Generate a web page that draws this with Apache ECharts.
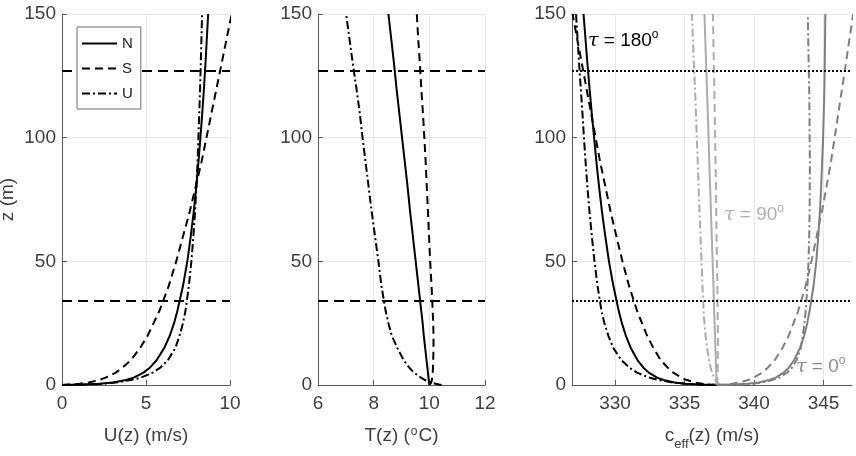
<!DOCTYPE html>
<html>
<head>
<meta charset="utf-8">
<title>Profiles</title>
<script src="https://cdn.jsdelivr.net/npm/echarts@6.0.0/dist/echarts.min.js"></script>
<style>
  html, body { margin: 0; padding: 0; background: #fff; }
  #chart { width: 856px; height: 456px; }
</style>
</head>
<body>
<div id="chart"></div>
<script>
// heights (m) at which the profiles were read
const zLevels = [0, 0.2, 0.5, 1, 2, 3, 5, 7, 10, 15, 20, 25, 30, 40, 50, 60, 70, 80, 90, 100, 110, 120, 130, 140, 150]

// wind speed U(z) (m/s)
const windN = [0, 1.20, 2.24, 3.03, 3.81, 4.27, 4.85, 5.23, 5.63, 6.09, 6.42, 6.67, 6.87, 7.20, 7.46, 7.66, 7.84, 7.99, 8.12, 8.24, 8.35, 8.45, 8.54, 8.62, 8.70]
const windS = [0, 0.55, 1.05, 1.6, 2.2, 2.6, 3.2, 3.6, 4.1, 4.65, 5.1, 5.45, 5.8, 6.35, 6.8, 7.2, 7.6, 7.95, 8.3, 8.6, 8.9, 9.2, 9.5, 9.8, 10.1]
const windU = [0, 1.5, 2.4, 3.2, 4.1, 4.7, 5.4, 5.85, 6.3, 6.75, 7.0, 7.2, 7.35, 7.55, 7.7, 7.82, 7.92, 8.0, 8.07, 8.12, 8.17, 8.22, 8.26, 8.3, 8.34]

// temperature T(z) (degC)
const tempN = [10.00, 10.00, 10.00, 9.99, 9.98, 9.97, 9.95, 9.93, 9.90, 9.85, 9.80, 9.76, 9.71, 9.61, 9.51, 9.41, 9.31, 9.22, 9.12, 9.02, 8.92, 8.82, 8.73, 8.63, 8.53]
const tempS = [10.00, 10.03, 10.05, 10.07, 10.09, 10.10, 10.12, 10.13, 10.14, 10.15, 10.15, 10.14, 10.12, 10.08, 10.03, 9.99, 9.95, 9.91, 9.87, 9.82, 9.77, 9.71, 9.66, 9.60, 9.55]
const tempU = [10.44, 10.35, 10.22, 10.08, 9.85, 9.70, 9.45, 9.28, 9.08, 8.85, 8.65, 8.53, 8.43, 8.28, 8.17, 8.05, 7.93, 7.82, 7.71, 7.60, 7.50, 7.38, 7.25, 7.13, 7.01]

// effective sound speed c_eff(z) (m/s), tau = 180 / 90 / 0
const ceff180N = [337.31, 336.11, 335.07, 334.27, 333.49, 333.02, 332.43, 332.04, 331.62, 331.13, 330.77, 330.49, 330.26, 329.88, 329.56, 329.30, 329.06, 328.85, 328.66, 328.49, 328.32, 328.16, 328.01, 327.87, 327.73]
const ceff180S = [337.31, 336.78, 336.29, 335.75, 335.16, 334.77, 334.18, 333.79, 333.29, 332.75, 332.30, 331.94, 331.58, 331.01, 330.53, 330.10, 329.68, 329.31, 328.93, 328.60, 328.27, 327.94, 327.61, 327.27, 326.94]
const ceff180U = [337.57, 336.02, 335.04, 334.16, 333.12, 332.43, 331.58, 331.03, 330.46, 329.87, 329.51, 329.23, 329.02, 328.74, 328.52, 328.33, 328.16, 328.01, 327.88, 327.76, 327.65, 327.53, 327.41, 327.30, 327.19]
const ceff90N = [337.31, 337.31, 337.31, 337.30, 337.30, 337.29, 337.28, 337.27, 337.25, 337.22, 337.19, 337.16, 337.13, 337.08, 337.02, 336.96, 336.90, 336.84, 336.78, 336.73, 336.67, 336.61, 336.55, 336.49, 336.43]
const ceff90S = [337.31, 337.33, 337.34, 337.35, 337.36, 337.37, 337.38, 337.39, 337.39, 337.40, 337.40, 337.39, 337.38, 337.36, 337.33, 337.30, 337.28, 337.26, 337.23, 337.20, 337.17, 337.14, 337.11, 337.07, 337.04]
const ceff90U = [337.57, 337.52, 337.44, 337.36, 337.22, 337.13, 336.98, 336.88, 336.76, 336.62, 336.51, 336.43, 336.37, 336.29, 336.22, 336.15, 336.08, 336.01, 335.95, 335.88, 335.82, 335.75, 335.67, 335.60, 335.53]
const ceff0N = [337.31, 338.51, 339.55, 340.33, 341.11, 341.56, 342.13, 342.50, 342.88, 343.31, 343.61, 343.83, 344.00, 344.28, 344.48, 344.62, 344.74, 344.83, 344.90, 344.97, 345.02, 345.06, 345.09, 345.11, 345.13]
const ceff0S = [337.31, 337.88, 338.39, 338.95, 339.56, 339.97, 340.58, 340.99, 341.49, 342.05, 342.50, 342.84, 343.18, 343.71, 344.13, 344.50, 344.88, 345.21, 345.53, 345.80, 346.07, 346.34, 346.61, 346.87, 347.14]
const ceff0U = [337.57, 339.02, 339.84, 340.56, 341.32, 341.83, 342.38, 342.73, 343.06, 343.37, 343.51, 343.63, 343.72, 343.84, 343.92, 343.97, 344.00, 344.01, 344.02, 344.00, 343.99, 343.97, 343.93, 343.90, 343.87]

// rotor bottom / top heights (m)
const rotorLevels = [34, 127]

const stabilityNames = ['N', 'S', 'U']

const font = 'Liberation Sans, Arial, sans-serif'
const labelColor = '#404040'
const dashTypes = {
  N: 'solid',
  S: [8, 5],
  U: [8, 3, 2, 3]
}

function profile (values) {
  return zLevels.map((z, i) => [values[i], z])
}

function curve (name, values, stab, axis, color) {
  return {
    name: name,
    type: 'line',
    xAxisIndex: axis,
    yAxisIndex: axis,
    symbol: 'none',
    showSymbol: false,
    silent: true,
    lineStyle: { color: color, width: 2, type: dashTypes[stab] },
    itemStyle: { color: color },
    data: profile(values)
  }
}

function rotorLines (type) {
  return {
    silent: true,
    symbol: 'none',
    animation: false,
    label: { show: false },
    lineStyle: { color: '#000', width: 2, type: type },
    data: rotorLevels.map(v => ({ yAxis: v }))
  }
}

const richName = {
  n: { fontSize: 19, color: labelColor, fontFamily: font, lineHeight: 22, verticalAlign: 'top' },
  sup: { fontSize: 12, color: labelColor, fontFamily: font, lineHeight: 12, verticalAlign: 'top', padding: [0, 1, 0, 1] },
  sub: { fontSize: 13, color: labelColor, fontFamily: font, lineHeight: 13, verticalAlign: 'top', padding: [12, 0, 0, 0] }
}

function xAxisOf (idx, min, max, name, extra) {
  return Object.assign({
    type: 'value',
    gridIndex: idx,
    min: min,
    max: max,
    name: name,
    nameLocation: 'middle',
    nameGap: 41,
    nameTextStyle: { fontSize: 19, color: labelColor, fontFamily: font, rich: richName },
    axisLine: { show: true, onZero: false, lineStyle: { color: '#5a5a5a', width: 1 } },
    axisTick: { show: true, inside: true, length: 5, lineStyle: { color: '#5a5a5a' } },
    axisLabel: { fontSize: 19, color: labelColor, fontFamily: font, margin: 9 },
    splitLine: { show: true, lineStyle: { color: '#e6e6e6', width: 1 } }
  }, extra || {})
}

function yAxisOf (idx, withName) {
  return {
    type: 'value',
    gridIndex: idx,
    min: 0,
    max: 150,
    interval: 50,
    name: withName ? 'z (m)' : '',
    nameLocation: 'middle',
    nameRotate: 90,
    nameGap: 45,
    nameTextStyle: { fontSize: 19, color: labelColor, fontFamily: font },
    axisLine: { show: true, onZero: false, lineStyle: { color: '#5a5a5a', width: 1 } },
    axisTick: { show: true, inside: true, length: 5, lineStyle: { color: '#5a5a5a' } },
    axisLabel: { fontSize: 19, color: labelColor, fontFamily: font, margin: 6 },
    splitLine: { show: true, lineStyle: { color: '#e6e6e6', width: 1 } }
  }
}

function tauLabel (text, color, left, top) {
  const rich = {
    t: { fontSize: 19, fontFamily: 'DejaVu Serif', fontStyle: 'italic', fill: color, lineHeight: 24, verticalAlign: 'middle' },
    n: { fontSize: 19, fontFamily: font, fill: color, lineHeight: 24, verticalAlign: 'middle' },
    s: { fontSize: 12, fontFamily: font, fill: color, lineHeight: 12, verticalAlign: 'top' }
  }
  return {
    type: 'text',
    left: left,
    top: top,
    silent: true,
    style: { text: '{t|τ}{n| = ' + text + '}{s|o}', rich: rich, fill: color }
  }
}

const black = '#000000'
const gray90 = '#acacac'
const gray0 = '#7f7f7f'

const series = [
  curve('N', windN, 'N', 0, black),
  curve('S', windS, 'S', 0, black),
  curve('U', windU, 'U', 0, black),
  curve('T N', tempN, 'N', 1, black),
  curve('T S', tempS, 'S', 1, black),
  curve('T U', tempU, 'U', 1, black),
  curve('c180 N', ceff180N, 'N', 2, black),
  curve('c180 S', ceff180S, 'S', 2, black),
  curve('c180 U', ceff180U, 'U', 2, black),
  curve('c90 N', ceff90N, 'N', 2, gray90),
  curve('c90 S', ceff90S, 'S', 2, gray90),
  curve('c90 U', ceff90U, 'U', 2, gray90),
  curve('c0 N', ceff0N, 'N', 2, gray0),
  curve('c0 S', ceff0S, 'S', 2, gray0),
  curve('c0 U', ceff0U, 'U', 2, gray0)
]
series[0].markLine = rotorLines([10, 6])
series[3].markLine = rotorLines([10, 6])
series[6].markLine = rotorLines([2, 2])

const option = {
  animation: false,
  backgroundColor: '#fff',
  textStyle: { fontFamily: font },
  // fixed plot boxes; the z label may run off the left edge like the original
  grid: [
    { left: 62, right: 626, top: 14, bottom: 71, outerBoundsMode: 'none' },
    { left: 318, right: 371, top: 14, bottom: 71, outerBoundsMode: 'none' },
    { left: 572, right: 4, top: 14, bottom: 71, outerBoundsMode: 'none' }
  ],
  xAxis: [
    xAxisOf(0, 0, 10, 'U(z) (m/s)', { interval: 5 }),
    xAxisOf(1, 6, 12, '{n|T(z) (}{sup|o}{n|C)}', { interval: 2 }),
    xAxisOf(2, 326.9, 347.05, '{n|c}{sub|eff}{n|(z) (m/s)}', {
      splitNumber: 4,
      axisLabel: { fontSize: 19, color: labelColor, fontFamily: font, margin: 9, showMinLabel: false, showMaxLabel: false },
      splitLine: { show: true, showMinLine: false, showMaxLine: false, lineStyle: { color: '#e6e6e6', width: 1 } }
    })
  ],
  yAxis: [yAxisOf(0, true), yAxisOf(1, false), yAxisOf(2, false)],
  legend: {
    data: stabilityNames,
    orient: 'vertical',
    left: 77,
    top: 27,
    z: 20,
    itemWidth: 35,
    itemHeight: 14,
    itemGap: 10,
    padding: [9, 8, 8, 4],
    borderColor: '#6e6e6e',
    borderWidth: 1,
    backgroundColor: '#fff',
    selectedMode: false,
    // line sample only, no marker in the middle
    itemStyle: { opacity: 0, borderWidth: 0 },
    textStyle: { fontSize: 15, color: '#222', fontFamily: font }
  },
  graphic: [
    tauLabel('180', '#000', 588, 29),
    tauLabel('90', '#b0b0b0', 724, 203),
    tauLabel('0', '#8c8c8c', 796, 355)
  ],
  series: series
}

const myChart = echarts.init(document.getElementById('chart'), null, { renderer: 'canvas' })
myChart.setOption(option)
</script>
</body>
</html>
